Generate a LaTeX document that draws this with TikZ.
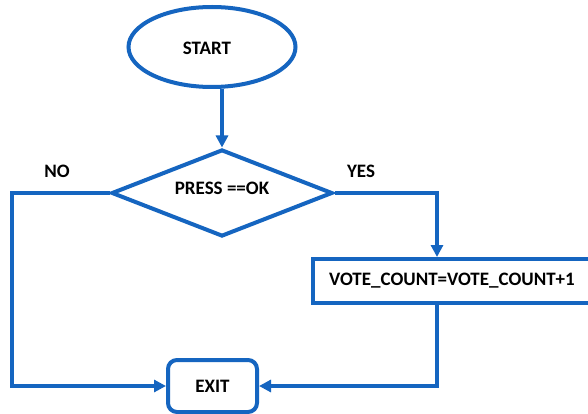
\documentclass[tikz,border=0pt]{standalone}
\usepackage{fontspec}
\setmainfont{Carlito}
\usetikzlibrary{shapes.geometric,arrows.meta}
\definecolor{fcblue}{RGB}{21,101,192}
\begin{document}
\begin{tikzpicture}[x=1pt,y=-1pt,
  box/.style={draw=fcblue,line width=4pt,fill=white,inner sep=0pt,font=\fontsize{19}{21}\selectfont\bfseries},
  lbl/.style={inner sep=0pt,font=\fontsize{19}{21}\selectfont\bfseries},
  conn/.style={draw=fcblue,line width=3.5pt},
  arr/.style={conn,-{Triangle[length=12pt,width=12pt]}}]
\useasboundingbox[fill=white] (0,0) rectangle (588,414);
\node[box,ellipse,minimum width=167pt,minimum height=80pt] (start) at (212,47) {};
\node[lbl] (starttext) at (207,48) {START};
\node[box,diamond,minimum width=221pt,minimum height=87pt,aspect=2.5] (dec) at (222,193) {};
\node[lbl] (dectext) at (222,188) {PRESS ==OK};
\node[box,rectangle,minimum width=278pt,minimum height=44pt] (vote) at (452,281) {VOTE\_COUNT=VOTE\_COUNT+1};
\node[box,rectangle,rounded corners=9pt,minimum width=89pt,minimum height=52pt] (exit) at (212.5,386) {EXIT};
\node[lbl] (nolbl) at (57,171) {NO};
\node[lbl] (yeslbl) at (361,171) {YES};
\coordinate (nocorner) at (12,193);
\coordinate (yescorner) at (437,193);
\draw[arr] (dec.north |- start.south) -- (dec.north);
\draw[arr,line join=miter] (dec.west) -- (nocorner) |- (exit.west);
\draw[arr,line join=miter] (dec.east) -- (yescorner) -- (yescorner |- vote.north);
\draw[arr,line join=miter] (yescorner |- vote.south) |- (exit.east);
\end{tikzpicture}
\end{document}
